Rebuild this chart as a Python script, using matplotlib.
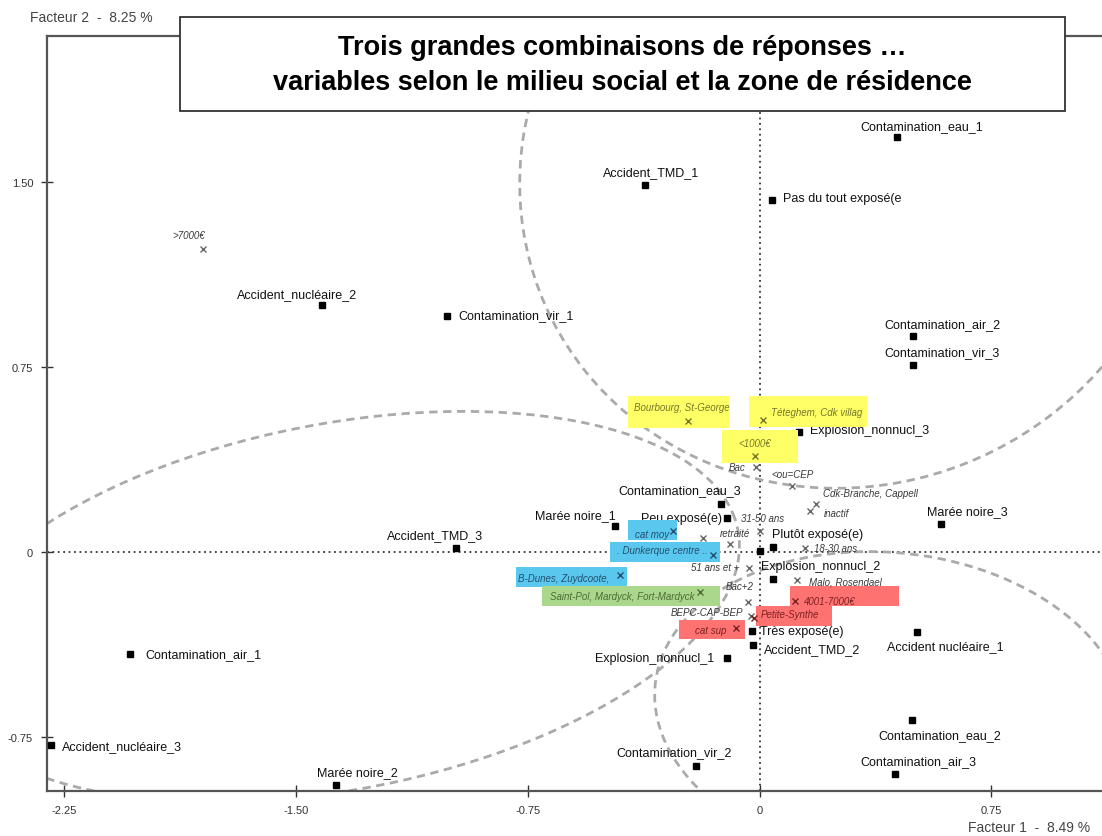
import matplotlib
matplotlib.use("Agg")
import matplotlib.pyplot as plt
from matplotlib.patches import Ellipse, Rectangle

plt.rcParams['font.family'] = ['Liberation Sans', 'DejaVu Sans']

# active categories : coordinates on Facteur 1 / Facteur 2
act_names = ["Contamination_eau_1", "Accident_TMD_1", "Pas du tout exposé(e",
             "Accident_nucléaire_2", "Contamination_vir_1", "Contamination_air_2",
             "Contamination_vir_3", "Explosion_nonnucl_3", "Contamination_eau_3",
             "Marée noire_1", "Peu exposé(e)", "Marée noire_3", "Accident_TMD_3",
             "Plutôt exposé(e)", "", "Explosion_nonnucl_2", "Très exposé(e)",
             "Accident_TMD_2", "Explosion_nonnucl_1", "Accident nucléaire_1",
             "Contamination_air_1", "Contamination_eau_2", "Accident_nucléaire_3",
             "Contamination_vir_2", "Contamination_air_3", "Marée noire_2"]
act_x = [0.445, -0.371, 0.040, -1.416, -1.011, 0.497, 0.497, 0.128, -0.125,
         -0.468, -0.105, 0.587, -0.982, 0.044, 0.000, 0.044, -0.024, -0.021,
         -0.105, 0.510, -2.037, 0.494, -2.293, -0.205, 0.439, -1.371]
act_y = [1.682, 1.488, 1.427, 1.001, 0.957, 0.876, 0.758, 0.486, 0.195,
         0.105, 0.138, 0.113, 0.016, 0.020, 0.004, -0.109, -0.320, -0.377,
         -0.430, -0.324, -0.413, -0.681, -0.782, -0.867, -0.900, -0.944]

# supplementary categories (crosses)
sup_names = [">7000€", "Bourbourg, St-George", "Téteghem, Cdk villag", "<1000€",
             "Bac", "<ou=CEP", "Cdk-Branche, Cappell", "inactif", "31-50 ans",
             "retraité", "cat moy", "", ". Dunkerque centre ..", "18-30 ans",
             "51 ans et +", "B-Dunes, Zuydcoote,", "Saint-Pol, Mardyck, Fort-Mardyck",
             "Bac+2", "Malo, Rosendael", "4001-7000€", "BEPC-CAP-BEP",
             "Petite-Synthe", "cat sup"]
sup_x = [-1.801, -0.231, 0.011, -0.015, -0.011, 0.105, 0.183, 0.163, 0.002,
         -0.095, -0.280, -0.183, -0.150, 0.147, -0.034, -0.452, -0.193,
         -0.037, 0.121, 0.115, -0.028, -0.018, -0.076]
sup_y = [1.228, 0.531, 0.535, 0.389, 0.345, 0.268, 0.195, 0.166, 0.085,
         0.032, 0.085, 0.057, -0.012, 0.016, -0.065, -0.093, -0.162,
         -0.203, -0.114, -0.199, -0.259, -0.268, -0.308]
sup_group = ["", "y", "y", "y", "", "", "", "", "", "", "b", "", "b", "", "",
             "b", "g", "", "", "r", "", "r", "r"]

# label placement (pixels from the marker)
act_lab = [(25, 11, 'center'), (6, 13, 'center'), (11, 2, 'left'),
           (-25, 11, 'center'), (11, 1, 'left'), (29, 12, 'center'),
           (29, 13, 'center'), (11, 2, 'left'), (-41, 14, 'center'),
           (-40, 11, 'center'), (-5, 0, 'right'), (26, 13, 'center'),
           (-21, 13, 'center'), (-1, 13, 'left'), (0, 0, 'center'),
           (48, 13, 'center'), (8, 0, 'left'), (11, -4, 'left'),
           (-13, 0, 'right'), (28, -14, 'center'), (15, 0, 'left'),
           (28, -15, 'center'), (11, -1, 'left'), (-22, 14, 'center'),
           (23, 13, 'center'), (22, 13, 'center')]
sup_lab = [(-14, 14), (-6, 14), (54, 8), (0, 13), (-19, 0), (1, 12), (54, 11),
           (27, -2), (2, 13), (5, 11), (-21, -3), (0, 0), (-51, 5), (31, 0),
           (-34, 1), (-56, -3), (-78, -4), (-8, 16), (48, -1), (35, 0),
           (-44, 4), (36, 4), (-25, -2)]

# highlight boxes (x0, x1, y0, y1) and their colours
boxes = [(-0.426, -0.099, 0.503, 0.632, "y"), (-0.034, 0.348, 0.507, 0.632, "y"),
         (-0.121, 0.125, 0.361, 0.495, "y"), (-0.426, -0.267, 0.049, 0.130, "b"),
         (-0.484, -0.128, -0.041, 0.041, "b"), (-0.788, -0.429, -0.142, -0.061, "b"),
         (-0.704, -0.128, -0.219, -0.138, "g"), (0.099, 0.451, -0.219, -0.138, "r"),
         (-0.011, 0.235, -0.300, -0.219, "r"), (-0.261, -0.047, -0.353, -0.276, "r")]
box_fill = {"y": "#ffff66", "b": "#5ac8ee", "g": "#aad78c", "r": "#ff7272"}
box_text = {"": "#3a3a3a", "y": "#77772a", "b": "#24506e", "g": "#4d6b34", "r": "#7a2222"}

# the three dashed groupings: centre, width, height, angle
groups = [((0.297, 1.551), 2.139, 2.591, 173.2),
          ((-1.362, -0.222), 1.467, 2.662, 105.6),
          ((0.424, -0.637), 1.261, 1.540, 76.7)]

fig = plt.figure(figsize=(11.02, 8.37), dpi=100)
W, H = 1102, 837
ax = fig.add_axes([47 / W, 45 / H, (1108 - 47) / W, (792 - 37) / H])
ax.set_xlim((47 - 759.5) / 309, (1108 - 759.5) / 309)
ax.set_ylim((553 - 792) / 246.7, (553 - 37) / 246.7)

for s in ["left", "bottom", "top"]:
    ax.spines[s].set_color("#555555")
    ax.spines[s].set_linewidth(1.6)
ax.spines["right"].set_visible(False)

ax.set_xticks([-2.25, -1.5, -0.75, 0, 0.75])
ax.set_xticklabels(["-2.25", "-1.50", "-0.75", "0", "0.75"])
ax.set_yticks([-0.75, 0, 0.75, 1.5])
ax.set_yticklabels(["-0.75", "0", "0.75", "1.50"])
ax.tick_params(direction="inout", length=8, width=1, colors="#333333",
               labelsize=8, pad=6)

ax.axhline(0, color="#333333", lw=1.3, ls=(0, (1, 2)), zorder=1)
ax.axvline(0, color="#333333", lw=1.3, ls=(0, (1, 2)), zorder=1)

for c, w, h, ang in groups:
    ax.add_patch(Ellipse(c, w, h, angle=ang, fill=False, edgecolor="#aaaaaa",
                         lw=2, ls=(0, (3, 2)), zorder=2))

ax.plot(act_x, act_y, "s", color="black", ms=5, zorder=4)
for name, x, y, (dx, dy, ha) in zip(act_names, act_x, act_y, act_lab):
    if name:
        ax.annotate(name, (x, y), xytext=(dx, dy), textcoords="offset pixels",
                    ha=ha, va="center", fontsize=9, color="#111111", zorder=4)

for x0, x1, y0, y1, g in boxes:
    ax.add_patch(Rectangle((x0, y0), x1 - x0, y1 - y0, facecolor=box_fill[g],
                           edgecolor="none", zorder=5))

for name, x, y, g, (dx, dy) in zip(sup_names, sup_x, sup_y, sup_group, sup_lab):
    ax.plot(x, y, "x", color="#666666" if not g else box_text[g], ms=4.5,
            mew=1, zorder=6)
    if name:
        ax.annotate(name, (x, y), xytext=(dx, dy), textcoords="offset pixels",
                    ha="center", va="center", fontsize=7, style="italic",
                    color=box_text[g], zorder=6)

# title box over the top of the frame
fig.add_artist(Rectangle((180 / W, 1 - 112 / H), 885 / W, 94 / H,
                         transform=fig.transFigure, facecolor="white",
                         edgecolor="#333333", lw=1.3, zorder=10))
fig.text(622 / W, 1 - 48 / H, "Trois grandes combinaisons de réponses …",
         ha="center", va="center", fontsize=19.5, fontweight="bold", zorder=11)
fig.text(622 / W, 1 - 83 / H,
         "variables selon le milieu social et la zone de résidence",
         ha="center", va="center", fontsize=19.5, fontweight="bold", zorder=11)

fig.text(30 / W, 1 - 18 / H, "Facteur 2  -  8.25 %", ha="left", va="center",
         fontsize=10, color="#444444")
fig.text(1090 / W, 1 - 828 / H, "Facteur 1  -  8.49 %", ha="right",
         va="center", fontsize=10, color="#444444")

fig.savefig("out.png", dpi=100)
